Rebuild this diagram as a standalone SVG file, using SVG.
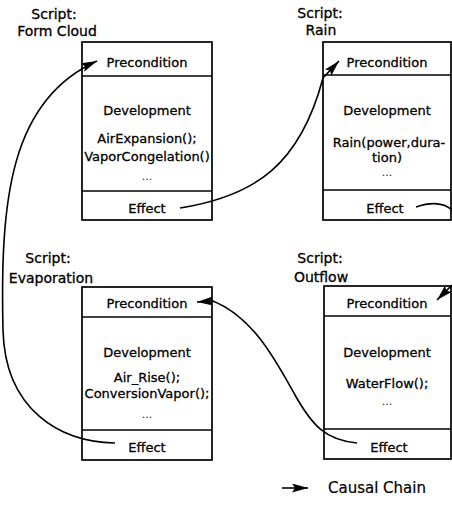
<svg xmlns="http://www.w3.org/2000/svg" width="452" height="520" viewBox="0 0 452 520">
  <style>
    .box { fill: #fff; stroke: #000; stroke-width: 1.7; }
    .sep { stroke: #000; stroke-width: 1.5; }
    .t { font-family: "DejaVu Sans", "Liberation Sans", sans-serif; font-size: 13px; fill: #000; stroke: #000; stroke-width: 0.3; text-anchor: middle; }
    .dots { font-family: "DejaVu Sans", "Liberation Sans", sans-serif; font-size: 11px; fill: #222; text-anchor: middle; }
    .lbl { font-family: "DejaVu Sans", "Liberation Sans", sans-serif; font-size: 14px; fill: #000; stroke: #000; stroke-width: 0.3; text-anchor: middle; }
    .leg { font-family: "DejaVu Sans", "Liberation Sans", sans-serif; font-size: 15px; fill: #000; stroke: #000; stroke-width: 0.2; }
    .edge { fill: none; stroke: #000; stroke-width: 1.6; }
  </style>
  <defs>
    <marker id="arrow" viewBox="0 0 16 9" refX="16" refY="4.5" markerWidth="16" markerHeight="9" markerUnits="userSpaceOnUse" orient="auto">
      <path d="M0,0 L16,4.5 L0,9 L3,4.5 Z" fill="#000"/>
    </marker>
  </defs>
  <rect width="452" height="520" fill="#fff"/>

  <!-- Script: Form Cloud -->
  <g id="form-cloud">
    <text class="lbl" x="54" y="19">Script:</text>
    <text class="lbl" x="57" y="36">Form Cloud</text>
    <rect class="box" x="82" y="42" width="130" height="178"/>
    <line class="sep" x1="82" y1="76" x2="212" y2="76"/>
    <line class="sep" x1="82" y1="191" x2="212" y2="191"/>
    <text class="t" x="147" y="67">Precondition</text>
    <text class="t" x="147" y="115">Development</text>
    <text class="t" x="147" y="143">AirExpansion();</text>
    <text class="t" x="147" y="161">VaporCongelation()</text>
    <text class="dots" x="147" y="180">...</text>
    <text class="t" x="147" y="213">Effect</text>
  </g>

  <!-- Script: Rain -->
  <g id="rain">
    <text class="lbl" x="320" y="18">Script:</text>
    <text class="lbl" x="321" y="35">Rain</text>
    <rect class="box" x="323" y="42" width="128" height="178"/>
    <line class="sep" x1="323" y1="75" x2="451" y2="75"/>
    <line class="sep" x1="323" y1="190" x2="451" y2="190"/>
    <text class="t" x="387" y="67">Precondition</text>
    <text class="t" x="387" y="115">Development</text>
    <text class="t" x="389" y="147">Rain(power,dura-</text>
    <text class="t" x="387" y="162">tion)</text>
    <text class="dots" x="387" y="176">...</text>
    <text class="t" x="385" y="213">Effect</text>
  </g>

  <!-- Script: Evaporation -->
  <g id="evaporation">
    <text class="lbl" x="48" y="263">Script:</text>
    <text class="lbl" x="51" y="283">Evaporation</text>
    <rect class="box" x="82" y="287" width="130" height="173"/>
    <line class="sep" x1="82" y1="317" x2="212" y2="317"/>
    <line class="sep" x1="82" y1="430" x2="212" y2="430"/>
    <text class="t" x="147" y="308">Precondition</text>
    <text class="t" x="147" y="357">Development</text>
    <text class="t" x="147" y="382">Air_Rise();</text>
    <text class="t" x="147" y="398">ConversionVapor();</text>
    <text class="dots" x="147" y="418">...</text>
    <text class="t" x="147" y="452">Effect</text>
  </g>

  <!-- Script: Outflow -->
  <g id="outflow">
    <text class="lbl" x="320" y="263">Script:</text>
    <text class="lbl" x="321" y="282">Outflow</text>
    <rect class="box" x="324" y="286" width="127" height="173"/>
    <line class="sep" x1="324" y1="316" x2="451" y2="316"/>
    <line class="sep" x1="324" y1="429" x2="451" y2="429"/>
    <text class="t" x="387" y="308">Precondition</text>
    <text class="t" x="387" y="357">Development</text>
    <text class="t" x="387" y="388">WaterFlow();</text>
    <text class="dots" x="387" y="405">...</text>
    <text class="t" x="389" y="452">Effect</text>
  </g>

  <!-- causal chain connectors -->
  <g id="connectors">
    <path class="edge" d="M180,208 C255,196 300,165 323,78 L339,61" marker-end="url(#arrow)"/>
    <path class="edge" d="M416,207 C428,203 442,201 452,210"/>
    <path class="edge" d="M452,285 L437,300" marker-end="url(#arrow)"/>
    <path class="edge" d="M357,443 C325,440 312,425 295,395 S255,318 213,301 L197,302" marker-end="url(#arrow)"/>
    <path class="edge" d="M115,443 C60,442 5,410 3,330 C0,200 10,100 97,61" marker-end="url(#arrow)"/>
  </g>

  <!-- legend -->
  <g id="legend">
    <path class="edge" d="M282,488 L308,488" marker-end="url(#arrow)"/>
    <text class="leg" x="328" y="493">Causal Chain</text>
  </g>
</svg>
